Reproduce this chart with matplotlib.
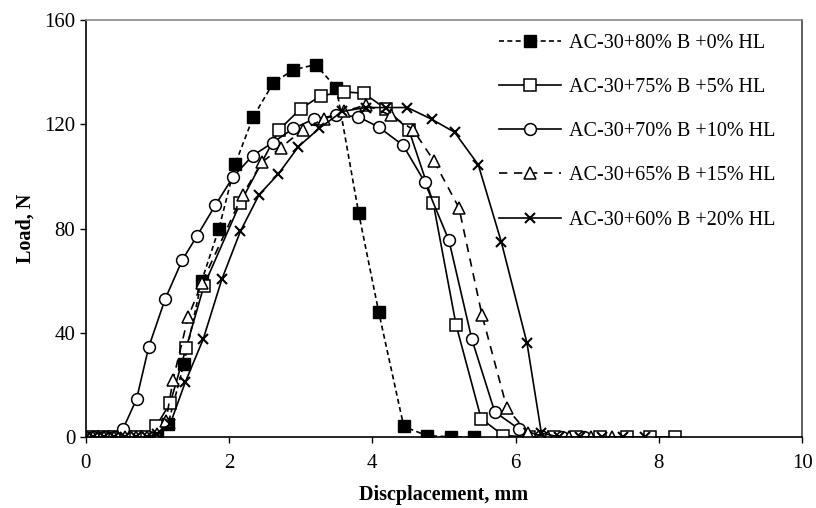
import matplotlib
matplotlib.use("Agg")
import matplotlib.pyplot as plt

plt.rcParams["font.family"] = ["Liberation Serif", "DejaVu Serif"]

# 数据
labels = ["AC-30+80% B +0% HL", "AC-30+75% B +5% HL", "AC-30+70% B +10% HL",
          "AC-30+65% B +15% HL", "AC-30+60% B +20% HL"]

x_b80 = [0.1, 0.25, 0.4, 0.55, 0.7, 0.85, 1.0, 1.15, 1.37, 1.62, 1.86, 2.09, 2.34, 2.62,
         2.90, 3.21, 3.50, 3.81, 4.09, 4.44, 4.76, 5.10, 5.42]
y_b80 = [0, 0, 0, 0, 0, 0, 1, 5, 28, 60, 80, 105, 123, 136,
         141, 143, 134, 86, 48, 4, 0.5, 0, 0]

x_b75 = [0.1, 0.25, 0.4, 0.55, 0.7, 0.85, 0.98, 1.18, 1.40, 1.65, 2.16, 2.70, 3.00, 3.28,
         3.60, 3.88, 4.19, 4.51, 4.85, 5.17, 5.52, 5.83, 6.19, 6.53, 6.85, 7.18, 7.55, 7.87, 8.23]
y_b75 = [0, 0, 0, 0, 0, 0, 4, 13, 34, 58, 90, 118, 126, 131,
         132.5, 132, 126, 118, 90, 43, 7, 0.5, 0, 0, 0, 0, 0, 0, 0]

x_b70 = [0.1, 0.25, 0.4, 0.52, 0.71, 0.88, 1.11, 1.35, 1.55, 1.81, 2.06, 2.33, 2.61, 2.90,
         3.18, 3.49, 3.80, 4.09, 4.43, 4.73, 5.07, 5.39, 5.71, 6.05, 6.35, 6.65, 6.95]
y_b70 = [0, 0, 0, 3, 14.5, 34.5, 53, 68, 77, 89, 100, 108, 113, 118.5,
         122, 123.5, 123, 119, 112, 98, 75.5, 37.5, 9.6, 3, 0.5, 0, 0]

x_b65 = [0.1, 0.25, 0.4, 0.55, 0.7, 0.85, 1.0, 1.12, 1.22, 1.43, 1.62, 2.19, 2.46, 2.72,
         3.03, 3.32, 3.61, 3.91, 4.26, 4.57, 4.86, 5.21, 5.53, 5.88, 6.17, 6.45, 6.75, 7.05, 7.35]
y_b65 = [0, 0, 0, 0, 0, 0, 1, 6, 22, 46, 59, 93, 105.5, 111,
         118, 122, 125, 127.5, 123.5, 118, 106, 88, 47, 11, 1.5, 0, 0, 0, 0]

x_b60 = [0.1, 0.25, 0.4, 0.55, 0.7, 0.85, 1.0, 1.18, 1.39, 1.64, 1.90, 2.16, 2.42, 2.69,
         2.97, 3.26, 3.58, 3.91, 4.19, 4.49, 4.83, 5.15, 5.48, 5.80, 6.16, 6.36, 6.6, 6.9, 7.2, 7.5, 7.8]
y_b60 = [0, 0, 0, 0, 0, 0, 1, 5, 21, 37.5, 60.5, 79, 93, 101,
         111.5, 118.5, 125, 126.5, 126.5, 126.5, 122, 117, 104.5, 75, 36, 1.5, 0, 0, 0, 0, 0]

fig = plt.figure(figsize=(8.16, 5.08), dpi=100)
ax = fig.add_axes([0.105, 0.14, 0.878, 0.82])

lw = 1.2
ax.plot(x_b80, y_b80, linestyle=(0, (3, 2)), color="black", linewidth=lw,
        marker="s", markersize=8.5, markerfacecolor="black", markeredgecolor="black", label=labels[0])
ax.plot(x_b75, y_b75, linestyle="-", color="black", linewidth=lw,
        marker="s", markersize=8, markerfacecolor="white", markeredgewidth=1.1,
        markeredgecolor="black", label=labels[1])
ax.plot(x_b70, y_b70, linestyle="-", color="black", linewidth=lw,
        marker="o", markersize=8.5, markerfacecolor="white", markeredgewidth=1.1,
        markeredgecolor="black", label=labels[2])
ax.plot(x_b65, y_b65, linestyle=(0, (5, 4)), color="black", linewidth=lw,
        marker="^", markersize=8.5, markerfacecolor="white", markeredgewidth=1.1,
        markeredgecolor="black", label=labels[3])
ax.plot(x_b60, y_b60, linestyle="-", color="black", linewidth=lw,
        marker="x", markersize=7.5, markeredgewidth=1.5, label=labels[4])

ax.set_xlim(0, 10)
ax.set_ylim(0, 160)
ax.set_xticks([0, 2, 4, 6, 8, 10])
ax.set_yticks([0, 40, 80, 120, 160])
ax.tick_params(direction="out", length=4, width=1, labelsize=15, colors="black")
ax.tick_params(axis="x", pad=8)
for s in ax.spines.values():
    s.set_linewidth(1.2)
ax.spines["top"].set_color("#888888")
ax.spines["right"].set_color("#444444")

ax.set_xlabel("Discplacement, mm", fontsize=14.5, fontweight="bold", labelpad=9)
ax.set_ylabel("Load, N", fontsize=14.5, fontweight="bold", labelpad=6)

leg = ax.legend(loc="upper right", bbox_to_anchor=(0.983, 1.002), frameon=False,
                fontsize=14.5, handlelength=3.1, labelspacing=1.25,
                borderaxespad=0.3, handletextpad=0.4)

fig.savefig("out.png", dpi=100)
